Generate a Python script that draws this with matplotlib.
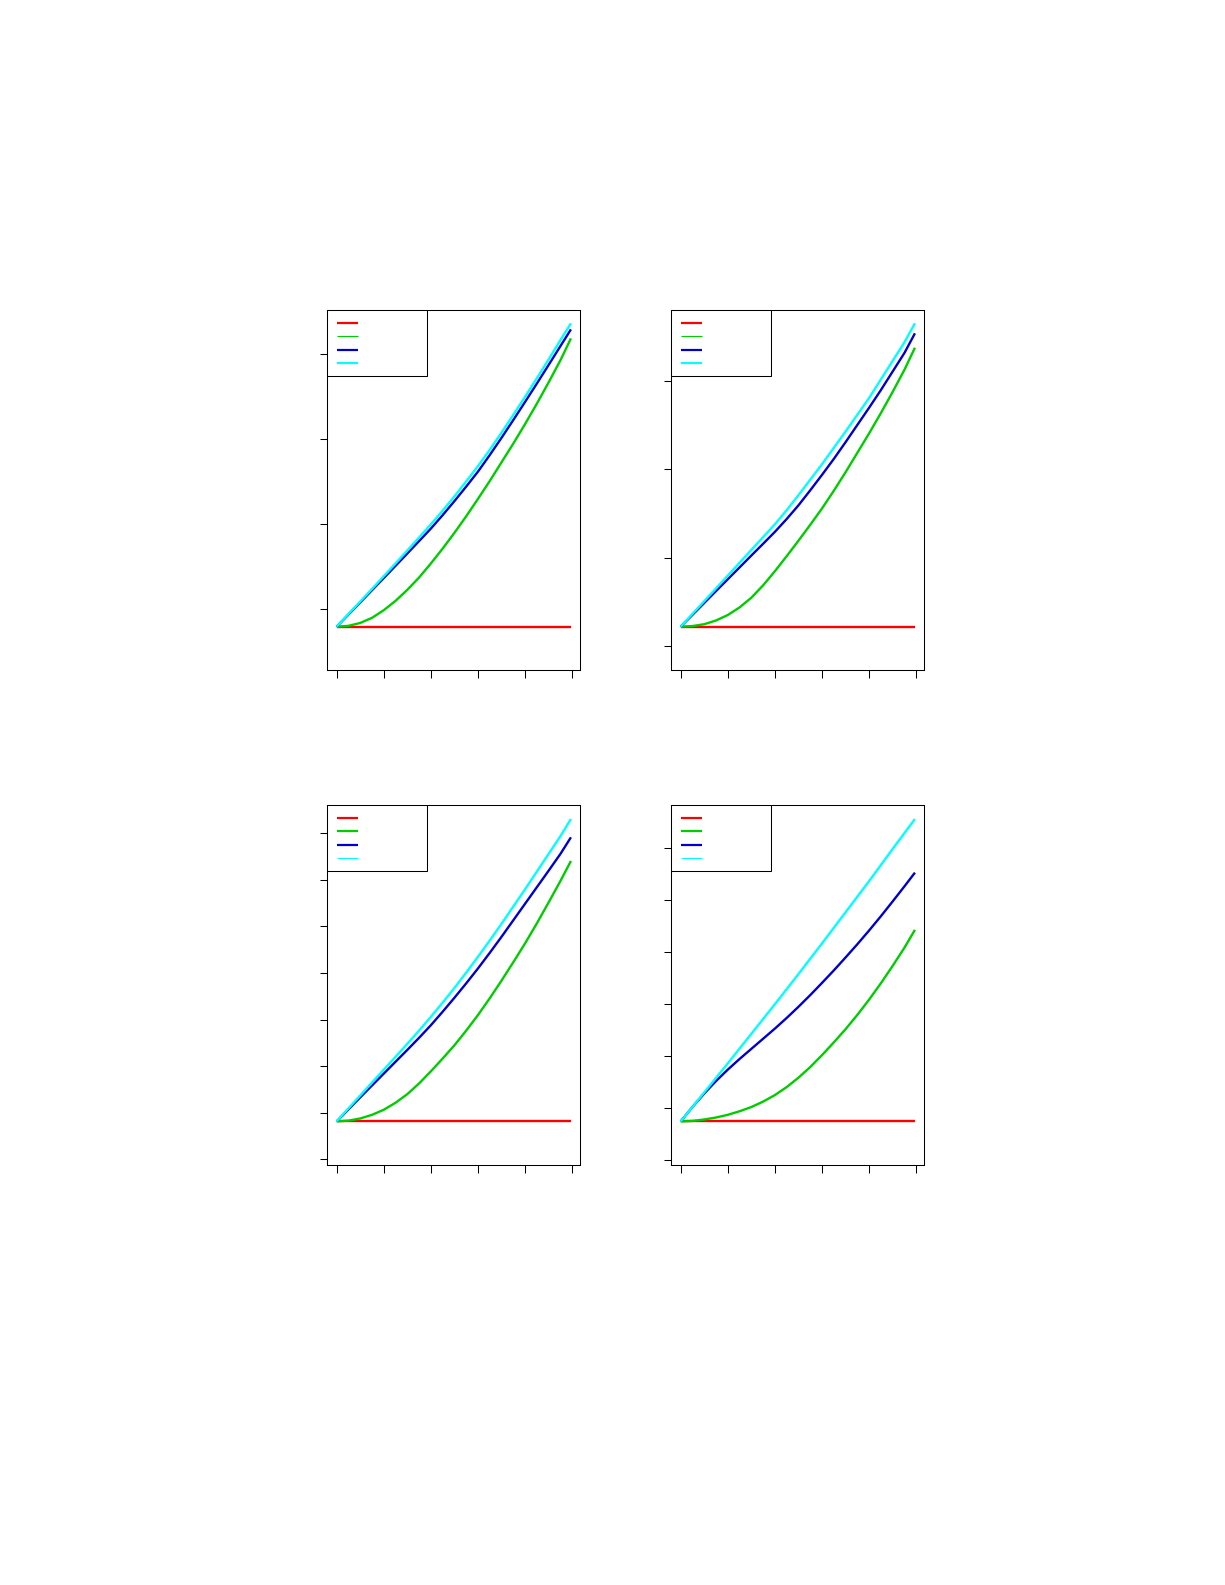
import matplotlib
matplotlib.use("Agg")
import matplotlib.pyplot as plt
from matplotlib.patches import Rectangle

# x positions shared by every panel
x_vals = [0, 0.25, 0.5, 0.75, 1, 1.25, 1.5, 1.75, 2, 2.25, 2.5,
          2.75, 3, 3.25, 3.5, 3.75, 4, 4.25, 4.5, 4.75, 4.97]
x_ticks = [0, 1, 2, 3, 4, 5]

# constant (red) level per panel: top-left, top-right, bottom-left, bottom-right
red_levels = [0.796, 1.222, 0.814, 0.742]

# top-left panel
green_tl = [0.796, 0.806, 0.84, 0.90, 0.99, 1.10, 1.23, 1.375, 1.54, 1.715, 1.90,
            2.095, 2.30, 2.51, 2.73, 2.95, 3.18, 3.42, 3.67, 3.93, 4.184]
blue_tl = [0.796, 0.939, 1.082, 1.225, 1.368, 1.512, 1.657, 1.803, 1.95, 2.108, 2.273,
           2.444, 2.62, 2.815, 3.018, 3.227, 3.44, 3.656, 3.875, 4.096, 4.29]
cyan_tl = [0.796, 0.944, 1.092, 1.24, 1.39, 1.54, 1.692, 1.845, 2.00, 2.16, 2.328,
           2.505, 2.685, 2.876, 3.078, 3.287, 3.50, 3.718, 3.94, 4.166, 4.361]

# top-right panel
green_tr = [1.222, 1.229, 1.25, 1.292, 1.354, 1.44, 1.55, 1.69, 1.85, 2.02, 2.195,
            2.375, 2.56, 2.76, 2.97, 3.19, 3.41, 3.64, 3.88, 4.13, 4.377]
blue_tr = [1.222, 1.356, 1.49, 1.625, 1.759, 1.893, 2.027, 2.16, 2.295, 2.44, 2.595,
           2.765, 2.94, 3.12, 3.31, 3.505, 3.70, 3.90, 4.11, 4.32, 4.54]
cyan_tr = [1.222, 1.366, 1.51, 1.655, 1.80, 1.945, 2.09, 2.235, 2.38, 2.54, 2.71,
           2.885, 3.06, 3.245, 3.43, 3.62, 3.81, 4.02, 4.23, 4.44, 4.653]

# bottom-left panel
green_bl = [0.814, 0.83, 0.877, 0.955, 1.064, 1.215, 1.40, 1.63, 1.89, 2.165, 2.45,
            2.765, 3.10, 3.46, 3.84, 4.235, 4.64, 5.07, 5.52, 5.98, 6.404]
blue_bl = [0.814, 1.071, 1.33, 1.585, 1.84, 2.095, 2.35, 2.61, 2.88, 3.17, 3.47,
           3.78, 4.10, 4.435, 4.78, 5.135, 5.49, 5.845, 6.20, 6.56, 6.912]
cyan_bl = [0.814, 1.092, 1.37, 1.648, 1.925, 2.20, 2.48, 2.765, 3.06, 3.365, 3.68,
           4.01, 4.35, 4.70, 5.06, 5.43, 5.80, 6.18, 6.56, 6.94, 7.305]

# bottom-right panel
green_br = [0.742, 0.752, 0.78, 0.818, 0.87, 0.938, 1.02, 1.125, 1.25, 1.405, 1.585,
            1.79, 2.02, 2.265, 2.52, 2.795, 3.09, 3.405, 3.74, 4.09, 4.43]
blue_br = [0.742, 1.02, 1.28, 1.52, 1.74, 1.945, 2.14, 2.335, 2.53, 2.735, 2.95,
           3.175, 3.41, 3.65, 3.90, 4.155, 4.42, 4.695, 4.98, 5.27, 5.531]
cyan_br = [0.742, 1.021, 1.30, 1.58, 1.86, 2.145, 2.43, 2.715, 3.00, 3.29, 3.58,
           3.875, 4.17, 4.47, 4.77, 5.07, 5.37, 5.68, 5.99, 6.295, 6.563]

# y ticks and y range per panel
y_ticks_tl = [1, 2, 3, 4]
y_ticks_tr = [1, 2, 3, 4]
y_ticks_bl = [0, 1, 2, 3, 4, 5, 6, 7]
y_ticks_br = [0, 1, 2, 3, 4, 5, 6]
y_lims = [(0.287, 4.514), (0.732, 4.800), (-0.122, 7.599), (-0.096, 6.827)]

colors = ["#FF0000", "#00CD00", "#0000CD", "#00FFFF"]

fig = plt.figure(figsize=(12.25, 15.85), dpi=100)

W, H = 1225.0, 1585.0
ax_w, ax_h = 253.0, 359.7
lefts = [327.3, 671.3, 327.3, 671.3]
tops = [310.3, 310.3, 805.3, 805.3]

panels = [
    (green_tl, blue_tl, cyan_tl, y_ticks_tl, [1.6, 0.8, 1.6, 1.6]),
    (green_tr, blue_tr, cyan_tr, y_ticks_tr, [1.6, 0.8, 1.6, 1.6]),
    (green_bl, blue_bl, cyan_bl, y_ticks_bl, [1.6, 1.6, 1.6, 0.8]),
    (green_br, blue_br, cyan_br, y_ticks_br, [1.6, 1.6, 1.6, 0.8]),
]

for i, (green, blue, cyan, yticks, leg_lw) in enumerate(panels):
    ax = fig.add_axes([lefts[i] / W, (H - tops[i] - ax_h) / H, ax_w / W, ax_h / H])

    red = [red_levels[i]] * len(x_vals)
    for series, col in zip([red, green, blue, cyan], colors):
        ax.plot(x_vals, series, color=col, linewidth=1.7, solid_capstyle="butt",
                solid_joinstyle="round")

    ax.set_xlim(-0.04 * x_vals[-1], 1.04 * x_vals[-1])
    ax.set_ylim(*y_lims[i])
    ax.set_xticks(x_ticks)
    ax.set_yticks(yticks)
    ax.set_xticklabels([])
    ax.set_yticklabels([])
    ax.tick_params(direction="out", length=5.4, width=0.75, color="black")
    for sp in ax.spines.values():
        sp.set_linewidth(0.75)
        sp.set_color("black")

    # legend box with line keys only (no labels in the original)
    ax.add_patch(Rectangle((0, 0.817), 0.395, 0.183, transform=ax.transAxes,
                           facecolor="white", edgecolor="black", linewidth=0.75,
                           zorder=5))
    key_y = [0.9655, 0.9286, 0.890, 0.854]
    for yy, col, lw in zip(key_y, colors, leg_lw):
        ax.plot([0.04, 0.123], [yy, yy], transform=ax.transAxes, color=col,
                linewidth=lw, solid_capstyle="butt", zorder=6)

fig.savefig("out.png", dpi=100)
